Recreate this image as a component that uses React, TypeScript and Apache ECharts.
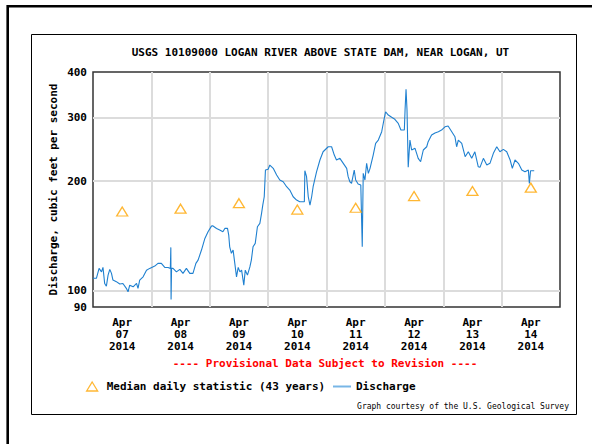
import React, { useEffect, useRef } from 'react';
import * as echarts from 'echarts';

// Text content
const titleText = 'USGS 10109000 LOGAN RIVER ABOVE STATE DAM, NEAR LOGAN, UT';
const yAxisTitle = 'Discharge, cubic feet per second';
const provisionalNote = '---- Provisional Data Subject to Revision ----';
const creditText = 'Graph courtesy of the U.S. Geological Survey';

// X axis: one band per day
const monthLabel = 'Apr';
const yearLabel = '2014';
const dayLabels = ['07', '08', '09', '10', '11', '12', '13', '14'];
const periodHours = 192; // Apr 07 00:00 .. Apr 15 00:00

// Y axis (log scale) tick labels and gridlines
const yTickValues = [90, 100, 200, 300, 400];
const yGridValues = [100, 200, 300];

// Median daily statistic, placed at noon of each day (hours since Apr 07 00:00)
const medianName = 'Median daily statistic (43 years)';
const medianHours = [12, 36, 60, 84, 108, 132, 156, 180];
const medianCfs = [165, 168, 174, 167, 169, 182, 188, 192];

// Discharge (cfs), hours since Apr 07 00:00
const dischargeName = 'Discharge';
const dischargeHours = [
  0, 1.4, 2.5, 3.5, 4.1, 4.8, 5.5, 6.2, 6.9, 7.6, 8.2, 9.6, 11, 12.3, 13.7, 14.4, 15.1, 16.5, 17.9, 18.5,
  19.2, 20.6, 22, 23.3, 25.4, 26.7, 28.1, 29.5, 30.9, 31.8, 32.0, 32.1, 32.3, 32.9, 34.3, 35.7, 37, 38.4, 39.8, 41.1,
  42.3, 43.2, 44.6, 46, 47.3, 48.7, 49.2, 50.8, 52.1, 53.4, 54.2, 55.3, 55.8, 56.2, 56.9, 57.6, 58.3, 59, 59.7, 60.4,
  61.1, 62, 62.6, 63.5, 64.5, 65.1, 65.8, 66.7, 67.6, 68.6, 69.3, 69.8, 70.4, 70.9, 72, 72.7, 74.1, 75.5, 76.8, 78.2,
  79.6, 80.9, 82.3, 83.7, 85, 86.4, 86.9, 87.1, 87.8, 88.5, 89.2, 89.9, 90.5, 91.9, 93.3, 94.6, 96.7, 98.1, 99.2, 100.1,
  101.5, 102.9, 104.3, 104.9, 105.6, 106.3, 107.4, 108, 109, 110.1, 110.7, 111.1, 111.8, 112.5, 113.2, 113.9, 115.2, 116.2, 117.3, 118.7,
  119.6, 120.3, 121.4, 122.8, 124.1, 125.5, 126.6, 128, 128.3, 128.7, 129.1, 129.6, 130.3, 131, 132.4, 133.7, 134.7, 135.8, 137.2, 137.8,
  139.2, 140.6, 142, 143.3, 144.7, 146, 147.5, 148.8, 149.5, 150.2, 151.6, 153, 154.3, 155.7, 157, 158.4, 159.1, 160.5, 161.9, 163.2,
  164.6, 166, 167.3, 168.7, 170.1, 171.5, 172.4, 173.5, 174.9, 176.3, 177.6, 179, 179.4, 179.9, 181.4,
];
const dischargeCfs = [
  108, 108, 115, 112.5, 115.7, 104.5, 102.7, 110.2, 114.3, 111.4, 106.8, 105.7, 104.1, 104.5, 101.3, 99.1, 103.4, 102.3, 104.5, 101.3,
  106.8, 109, 113.7, 115, 116.7, 118.7, 118.7, 115.7, 115.7, 115, 131.4, 94.4, 115, 115, 112.5, 114.3, 111.4, 115, 111.4, 111.4,
  118.7, 121.2, 129.2, 139.1, 145.1, 150.4, 150.7, 148.2, 146.7, 145.1, 148.2, 148.2, 142.1, 131.9, 126.5, 129.2, 118.7, 109, 115.7, 112.5,
  113.7, 103.4, 113.7, 110.2, 116.1, 121.2, 131.9, 134.8, 149.8, 153, 163.1, 171.9, 181.2, 214.7, 215.7, 221.6, 217, 208, 201.5, 199.3,
  193.1, 189.1, 181.2, 177.4, 175.5, 175.5, 175.5, 213.7, 205.8, 181.2, 171.9, 181.2, 193.1, 212.3, 228.8, 241.1, 248.9, 248.9, 236.1, 228.8,
  231.2, 224, 217, 205.8, 199.3, 197.3, 214.7, 201.5, 196.4, 195.2, 131.9, 210.2, 201.5, 224, 210.2, 217, 236.1, 254.3, 259.7, 273.8,
  294.9, 310.8, 304.4, 300, 296.2, 288.7, 276.7, 276.7, 314.2, 358.4, 314.2, 218.4, 259.7, 243.8, 246.4, 231.2, 226.3, 243.8, 248.9, 257,
  268.1, 271.6, 273.8, 276.7, 282.5, 283.9, 273.8, 265.3, 248.9, 259.7, 254.3, 233.6, 241.1, 231.2, 241.1, 219.2, 218.4, 231.2, 221.6, 224,
  238.7, 248.9, 241.1, 244.8, 241.1, 228.8, 217, 228.8, 224, 214.7, 212.3, 214.7, 197.3, 213.7, 213.7,
];

const FONT = "'DejaVu Sans Mono', 'Liberation Mono', monospace";
const GRID_COLOR = '#dcdcdc';
const MEDIAN_COLOR = '#ffa500';
const DISCHARGE_COLOR = '#1f80d0';

export default function App() {
  const ref = useRef<HTMLDivElement>(null);

  useEffect(() => {
    if (!ref.current) return;
    const chart = echarts.init(ref.current, undefined, { renderer: 'svg' });

    const baseText = { fontFamily: FONT, fontWeight: 'bold' as const, fontSize: 11, color: '#000' };

    const option: any = {
      animation: false,
      backgroundColor: '#fff',
      grid: {
        left: 93,
        top: 72,
        width: 467,
        height: 235,
        show: true,
        borderColor: '#333',
        borderWidth: 1.5,
        backgroundColor: 'transparent',
      },
      xAxis: [
        {
          type: 'category',
          data: dayLabels.map((d) => `${monthLabel}\n${d}\n${yearLabel}`),
          boundaryGap: true,
          axisLine: { show: false },
          axisTick: { show: false },
          axisLabel: { ...baseText, margin: 9, lineHeight: 12, interval: 0 },
          splitLine: {
            show: true,
            interval: 0,
            showMinLine: false,
            showMaxLine: false,
            lineStyle: { color: GRID_COLOR, width: 2 },
          },
        },
        { type: 'value', min: 0, max: periodHours, show: false },
      ],
      yAxis: {
        type: 'log',
        logBase: 10,
        min: 90,
        max: 400,
        name: yAxisTitle,
        nameLocation: 'middle',
        nameRotate: 90,
        nameGap: 34,
        nameTextStyle: { ...baseText },
        axisLine: { show: false },
        axisTick: { show: false },
        axisLabel: { show: false },
        splitLine: { show: false },
      },
      legend: [
        {
          left: 86,
          top: 381,
          padding: 0,
          itemWidth: 11,
          itemHeight: 9,
          textStyle: { ...baseText, padding: [0, 0, 0, 4] },
          data: [
            {
              name: medianName,
              icon: 'triangle',
              itemStyle: { color: 'rgba(255,255,255,0)', borderColor: MEDIAN_COLOR, borderWidth: 1.3 },
            },
          ],
        },
        {
          left: 333,
          top: 381,
          padding: 0,
          itemWidth: 18,
          itemHeight: 2,
          textStyle: { ...baseText },
          data: [{ name: dischargeName, icon: 'rect', itemStyle: { color: '#78b6e6' } }],
        },
      ],
      series: [
        {
          name: dischargeName,
          type: 'line',
          xAxisIndex: 1,
          data: dischargeHours.map((h, i) => [h, dischargeCfs[i]]),
          showSymbol: false,
          symbol: 'none',
          lineStyle: { color: DISCHARGE_COLOR, width: 1.1 },
          itemStyle: { color: DISCHARGE_COLOR },
          z: 3,
          // Horizontal gridlines and the value labels of the log axis
          markLine: {
            silent: true,
            symbol: 'none',
            z: 1,
            label: {
              ...baseText,
              opacity: 1,
              position: 'start',
              distance: 6,
              formatter: (p: any) => String(p.value),
            },
            lineStyle: { color: GRID_COLOR, width: 2, type: 'solid' },
            data: yTickValues.map((v) => ({
              yAxis: v,
              lineStyle: { color: yGridValues.includes(v) ? GRID_COLOR : 'rgba(0,0,0,0)' },
            })),
          },
        },
        {
          name: medianName,
          type: 'scatter',
          xAxisIndex: 1,
          data: medianHours.map((h, i) => [h, medianCfs[i]]),
          symbol: 'triangle',
          symbolSize: [11, 9],
          itemStyle: { color: 'rgba(255,255,255,0)', borderColor: MEDIAN_COLOR, borderWidth: 1.3 },
          z: 4,
        },
      ],
      graphic: [
        {
          type: 'polyline',
          silent: true,
          shape: { points: [[7.7, 470], [7.7, 6.2], [620, 6.2]] },
          style: { stroke: '#000', lineWidth: 2.6, fill: 'none' },
        },
        {
          type: 'rect',
          silent: true,
          shape: { x: 31.5, y: 34.5, width: 545, height: 380 },
          style: { stroke: '#000', lineWidth: 1, fill: 'none' },
        },
        {
          type: 'text',
          x: 320.5,
          y: 52,
          style: { text: titleText, fontFamily: FONT, fontWeight: 'bold', fontSize: 11, fill: '#000', align: 'center', verticalAlign: 'middle' },
        },
        {
          type: 'text',
          x: 325,
          y: 363,
          style: { text: provisionalNote, fontFamily: FONT, fontWeight: 'bold', fontSize: 11, fill: '#ff0000', align: 'center', verticalAlign: 'middle' },
        },
        {
          type: 'text',
          x: 569,
          y: 406,
          style: { text: creditText, fontFamily: FONT, fontSize: 8, fill: '#000', align: 'right', verticalAlign: 'middle' },
        },
      ],
    };

    chart.setOption(option);
    return () => chart.dispose();
  }, []);

  return <div ref={ref} style={{ position: 'fixed', left: 0, top: 0, width: 592, height: 444 }} />;
}
